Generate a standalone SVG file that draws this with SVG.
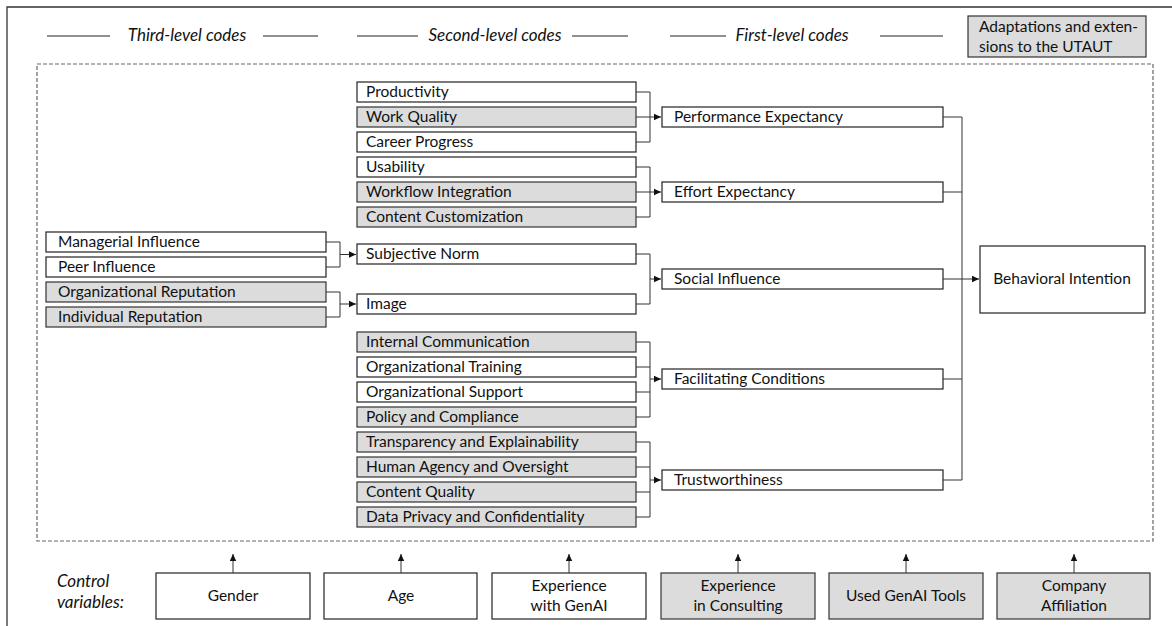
<svg xmlns="http://www.w3.org/2000/svg" width="1172" height="626" viewBox="0 0 1172 626">
<style>
text{font-family:Lato,"Liberation Sans",sans-serif;font-size:15.5px;fill:#111}
.hd{font-style:italic;font-size:17px}
.b{fill:#fff;stroke:#222;stroke-width:1.2}
.g{fill:#dcdcdc;stroke:#333;stroke-width:1.2}
.c{fill:none;stroke:#333;stroke-width:1}
.hl{stroke:#222;stroke-width:1.2}
.mid{text-anchor:middle}
</style>
<defs>
<marker id="ar" markerUnits="userSpaceOnUse" markerWidth="8" markerHeight="8" refX="7" refY="4" orient="auto">
<path d="M0,0.8 L7,4 L0,7.2 z" fill="#111"/>
</marker>
</defs>
<rect width="1172" height="626" fill="#fff"/>
<path d="M7,626 V7 H1172" fill="none" stroke="#333" stroke-width="1.3"/>
<g id="headers">
<line class="hl" x1="47" y1="36" x2="110" y2="36"/>
<text class="hd mid" x="187" y="41">Third-level codes</text>
<line class="hl" x1="263" y1="36" x2="318" y2="36"/>
<line class="hl" x1="357" y1="36" x2="418" y2="36"/>
<text class="hd mid" x="495" y="41">Second-level codes</text>
<line class="hl" x1="572" y1="36" x2="628" y2="36"/>
<line class="hl" x1="670" y1="36" x2="726" y2="36"/>
<text class="hd mid" x="792" y="41">First-level codes</text>
<line class="hl" x1="880" y1="36" x2="943" y2="36"/>
</g>
<g id="legend">
<rect class="g" x="968" y="16" width="178" height="41"/>
<text x="979" y="32">Adaptations and exten-</text>
<text x="979" y="52">sions to the UTAUT</text>
</g>
<rect x="37" y="64" width="1116" height="477" fill="none" stroke="#666" stroke-width="1.2" stroke-dasharray="4,2"/>
<g id="third-level">
<g id="n-managerial"><rect class="b" x="46" y="232" width="280" height="20"/><text x="58" y="247">Managerial Influence</text></g>
<g id="n-peer"><rect class="b" x="46" y="257" width="280" height="20"/><text x="58" y="272">Peer Influence</text></g>
<g id="n-orgrep"><rect class="g" x="46" y="282" width="280" height="20"/><text x="58" y="297">Organizational Reputation</text></g>
<g id="n-indrep"><rect class="g" x="46" y="307" width="280" height="20"/><text x="58" y="322">Individual Reputation</text></g>
</g>
<g id="second-level">
<g id="n-productivity"><rect class="b" x="357" y="82" width="279" height="20"/><text x="366" y="97">Productivity</text></g>
<g id="n-workquality"><rect class="g" x="357" y="107" width="279" height="20"/><text x="366" y="122">Work Quality</text></g>
<g id="n-career"><rect class="b" x="357" y="132" width="279" height="20"/><text x="366" y="147">Career Progress</text></g>
<g id="n-usability"><rect class="b" x="357" y="157" width="279" height="20"/><text x="366" y="172">Usability</text></g>
<g id="n-workflow"><rect class="g" x="357" y="182" width="279" height="20"/><text x="366" y="197">Workflow Integration</text></g>
<g id="n-content-cust"><rect class="g" x="357" y="207" width="279" height="20"/><text x="366" y="222">Content Customization</text></g>
<g id="n-subjnorm"><rect class="b" x="357" y="244" width="279" height="20"/><text x="366" y="259">Subjective Norm</text></g>
<g id="n-image"><rect class="b" x="357" y="294" width="279" height="20"/><text x="366" y="309">Image</text></g>
<g id="n-internal"><rect class="g" x="357" y="332" width="279" height="20"/><text x="366" y="347">Internal Communication</text></g>
<g id="n-training"><rect class="b" x="357" y="357" width="279" height="20"/><text x="366" y="372">Organizational Training</text></g>
<g id="n-support"><rect class="b" x="357" y="382" width="279" height="20"/><text x="366" y="397">Organizational Support</text></g>
<g id="n-policy"><rect class="g" x="357" y="407" width="279" height="20"/><text x="366" y="422">Policy and Compliance</text></g>
<g id="n-transparency"><rect class="g" x="357" y="432" width="279" height="20"/><text x="366" y="447">Transparency and Explainability</text></g>
<g id="n-agency"><rect class="g" x="357" y="457" width="279" height="20"/><text x="366" y="472">Human Agency and Oversight</text></g>
<g id="n-contentq"><rect class="g" x="357" y="482" width="279" height="20"/><text x="366" y="497">Content Quality</text></g>
<g id="n-privacy"><rect class="g" x="357" y="507" width="279" height="20"/><text x="366" y="522">Data Privacy and Confidentiality</text></g>
</g>
<g id="first-level">
<g id="n-pe"><rect class="b" x="662" y="107" width="281" height="20"/><text x="674" y="122">Performance Expectancy</text></g>
<g id="n-ee"><rect class="b" x="662" y="182" width="281" height="20"/><text x="674" y="197">Effort Expectancy</text></g>
<g id="n-si"><rect class="b" x="662" y="269" width="281" height="20"/><text x="674" y="284">Social Influence</text></g>
<g id="n-fc"><rect class="b" x="662" y="369" width="281" height="20"/><text x="674" y="384">Facilitating Conditions</text></g>
<g id="n-tw"><rect class="b" x="662" y="470" width="281" height="20"/><text x="674" y="485">Trustworthiness</text></g>
</g>
<g id="n-bi"><rect class="b" x="980" y="246" width="165" height="67"/><text class="mid" x="1062" y="284">Behavioral Intention</text></g>
<g id="controls">
<text class="hd" x="57" y="587">Control</text>
<text class="hd" x="57" y="608">variables:</text>
<g id="n-gender"><rect class="b" x="156" y="573" width="154" height="46"/><text class="mid" x="233" y="601">Gender</text></g>
<g id="n-age"><rect class="b" x="324" y="573" width="153" height="46"/><text class="mid" x="401" y="601">Age</text></g>
<g id="n-expgenai"><rect class="b" x="492" y="573" width="154" height="46"/><text class="mid" x="569" y="591">Experience</text><text class="mid" x="569" y="611">with GenAI</text></g>
<g id="n-expcons"><rect class="g" x="661" y="573" width="154" height="46"/><text class="mid" x="738" y="591">Experience</text><text class="mid" x="738" y="611">in Consulting</text></g>
<g id="n-tools"><rect class="g" x="829" y="573" width="154" height="46"/><text class="mid" x="906" y="601">Used GenAI Tools</text></g>
<g id="n-company"><rect class="g" x="997" y="573" width="153" height="46"/><text class="mid" x="1074" y="591">Company</text><text class="mid" x="1074" y="611">Affiliation</text></g>
</g>
<g id="connectors">
<path class="c" d="M326,242 H340 V267 H326 M340,254.5 H356" marker-end="url(#ar)"/>
<path class="c" d="M326,292 H340 V317 H326 M340,304 H356" marker-end="url(#ar)"/>
<path class="c" d="M636,92 H650 V142 H636 M636,117 H650 M650,117 H661" marker-end="url(#ar)"/>
<path class="c" d="M636,167 H650 V217 H636 M636,192 H650 M650,192 H661" marker-end="url(#ar)"/>
<path class="c" d="M636,254 H650 V304 H636 M650,279 H661" marker-end="url(#ar)"/>
<path class="c" d="M636,342 H650 V417 H636 M636,367 H650 M636,392 H650 M650,379 H661" marker-end="url(#ar)"/>
<path class="c" d="M636,442 H650 V517 H636 M636,467 H650 M636,492 H650 M650,480 H661" marker-end="url(#ar)"/>
<path class="c" d="M943,117 H962 V480 H943 M943,192 H962 M943,279 H962 M943,379 H962 M962,279 H979" marker-end="url(#ar)"/>
<line class="c" x1="233" y1="573" x2="233" y2="554" marker-end="url(#ar)"/>
<line class="c" x1="401" y1="573" x2="401" y2="554" marker-end="url(#ar)"/>
<line class="c" x1="569" y1="573" x2="569" y2="554" marker-end="url(#ar)"/>
<line class="c" x1="738" y1="573" x2="738" y2="554" marker-end="url(#ar)"/>
<line class="c" x1="906" y1="573" x2="906" y2="554" marker-end="url(#ar)"/>
<line class="c" x1="1074" y1="573" x2="1074" y2="554" marker-end="url(#ar)"/>
</g>
</svg>
